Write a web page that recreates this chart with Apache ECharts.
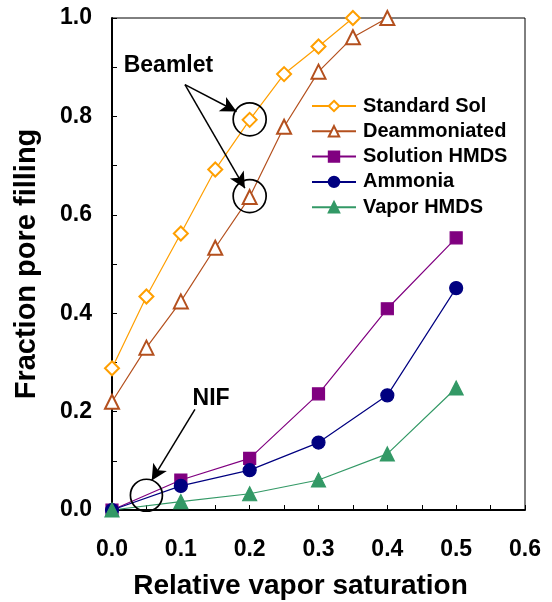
<!DOCTYPE html>
<html>
<head>
<meta charset="utf-8">
<script src="https://cdn.jsdelivr.net/npm/echarts@6/dist/echarts.min.js"></script>
<style>
  html, body { margin: 0; padding: 0; background: #fff; }
  #chart { width: 552px; height: 602px; }
</style>
</head>
<body>
<div id="chart"></div>
<script>
  // values
  let xStandard = [0, 0.05, 0.1, 0.15, 0.2, 0.25, 0.3, 0.35];
  let yStandard = [0.288, 0.434, 0.562, 0.692, 0.793, 0.886, 0.942, 1.0];

  let xDeamm = [0, 0.05, 0.1, 0.15, 0.2, 0.25, 0.3, 0.35, 0.4];
  let yDeamm = [0.22, 0.33, 0.424, 0.533, 0.636, 0.779, 0.891, 0.961, 1.0];

  let xSixths = [0, 0.1, 0.2, 0.3, 0.4, 0.5];
  let ySolution = [0, 0.061, 0.105, 0.236, 0.409, 0.553];
  let yAmmonia = [0, 0.049, 0.081, 0.137, 0.233, 0.451];
  let yVapor = [0, 0.017, 0.033, 0.061, 0.114, 0.248];

  let seriesNames = ['Standard Sol', 'Deammoniated', 'Solution HMDS', 'Ammonia', 'Vapor HMDS'];
  let xTickLabels = ['0.0', '0.1', '0.2', '0.3', '0.4', '0.5', '0.6'];
  let yTickLabels = ['0.0', '0.2', '0.4', '0.6', '0.8', '1.0'];

  let font = '"Liberation Sans", Arial, sans-serif';

  function pairs(xs, ys) {
    return xs.map(function (x, i) { return [x, ys[i]]; });
  }

  let defaStyle = {
    type: 'line',
    smooth: false,
    showSymbol: true,
    z: 3
  };

  function makeSeries(name, data, color, symbol, size) {
    return Object.assign({}, defaStyle, {
      name: name,
      data: data,
      symbol: symbol,
      symbolSize: size,
      itemStyle: { color: color, borderColor: color, borderWidth: 1.2 },
      lineStyle: { width: 1.2, color: color }
    });
  }

  let ringStyle = { color: 'transparent', borderColor: '#000', borderWidth: 1.7 };
  let noteLabel = { show: true, position: 'inside', fontFamily: font, fontWeight: 'bold', fontSize: 23, color: '#000' };

  let chart = echarts.init(document.getElementById('chart'));

  let options = {
    backgroundColor: '#ffffff',
    animation: false,
    textStyle: { fontFamily: font },
    grid: {
      left: 112,
      right: 27,
      top: 18,
      bottom: 92,
      outerBoundsMode: 'none',
      show: true,
      borderColor: '#000',
      borderWidth: 1
    },
    legend: {
      data: seriesNames,
      orient: 'vertical',
      left: 311,
      top: 96,
      padding: 0,
      itemWidth: 44,
      itemHeight: 13,
      itemGap: 5.3,
      textStyle: {
        fontFamily: font,
        fontWeight: 'bold',
        fontSize: 20,
        color: '#000',
        padding: [0, 0, 0, 2]
      }
    },
    xAxis: {
      type: 'value',
      min: 0,
      max: 0.6,
      interval: 0.05,
      name: 'Relative vapor saturation',
      nameLocation: 'middle',
      nameGap: 62,
      nameTextStyle: {
        fontFamily: font,
        fontWeight: 'bold',
        fontSize: 28,
        color: '#000',
        padding: [0, 36, 0, 0]
      },
      axisLine: { lineStyle: { color: '#000', width: 2 } },
      axisTick: { inside: true, length: 5, lineStyle: { color: '#000', width: 1 } },
      splitLine: { show: false },
      axisLabel: {
        margin: 28,
        fontFamily: font,
        fontWeight: 'bold',
        fontSize: 23,
        color: '#000',
        formatter: function (v) {
          let t = v.toFixed(1);
          return (Math.abs(v - parseFloat(t)) < 1e-6 && xTickLabels.indexOf(t) >= 0) ? t : '';
        }
      }
    },
    yAxis: {
      type: 'value',
      min: 0,
      max: 1,
      interval: 0.1,
      name: 'Fraction pore filling',
      nameLocation: 'middle',
      nameGap: 71,
      nameTextStyle: {
        fontFamily: font,
        fontWeight: 'bold',
        fontSize: 29,
        color: '#000'
      },
      axisLine: { lineStyle: { color: '#000', width: 2 } },
      axisTick: { inside: true, length: 5, lineStyle: { color: '#000', width: 1 } },
      splitLine: { show: false },
      axisLabel: {
        margin: 20,
        fontFamily: font,
        fontWeight: 'bold',
        fontSize: 23,
        color: '#000',
        formatter: function (v) {
          let t = v.toFixed(1);
          return yTickLabels.indexOf(t) >= 0 ? t : '';
        }
      }
    },
    series: [
      makeSeries(seriesNames[0], pairs(xStandard, yStandard), '#FF9F00', 'emptyDiamond', 14),
      makeSeries(seriesNames[1], pairs(xDeamm, yDeamm), '#B4501E', 'emptyTriangle', 14),
      makeSeries(seriesNames[2], pairs(xSixths, ySolution), '#800080', 'rect', 12),
      makeSeries(seriesNames[3], pairs(xSixths, yAmmonia), '#000080', 'circle', 13),
      makeSeries(seriesNames[4], pairs(xSixths, yVapor), '#339966', 'triangle', 14),
      {
        // annotations: circles, arrows, labels (data coordinates)
        name: 'notes',
        type: 'line',
        data: [],
        z: 5,
        markPoint: {
          silent: true,
          data: [
            { coord: [0.2, 0.794], symbol: 'circle', symbolSize: 33, itemStyle: ringStyle, label: { show: false } },
            { coord: [0.2, 0.638], symbol: 'circle', symbolSize: 33, itemStyle: ringStyle, label: { show: false } },
            { coord: [0.05, 0.03], symbol: 'circle', symbolSize: 32, itemStyle: ringStyle, label: { show: false } },
            { coord: [0.082, 0.904], symbol: 'circle', symbolSize: 2, itemStyle: { color: 'transparent' },
              label: Object.assign({ formatter: 'Beamlet' }, noteLabel) },
            { coord: [0.144, 0.226], symbol: 'circle', symbolSize: 2, itemStyle: { color: 'transparent' },
              label: Object.assign({ formatter: 'NIF' }, noteLabel) }
          ]
        },
        markLine: {
          silent: true,
          symbol: ['none', 'arrow'],
          symbolSize: [12, 16],
          label: { show: false },
          lineStyle: { color: '#000', width: 1.5, type: 'solid' },
          data: [
            [{ coord: [0.106, 0.8646] }, { coord: [0.181, 0.810] }],
            [{ coord: [0.106, 0.8646] }, { coord: [0.193, 0.654] }],
            [{ coord: [0.1205, 0.2047] }, { coord: [0.0577, 0.060] }]
          ]
        }
      }
    ]
  };

  chart.setOption(options);
</script>
</body>
</html>
